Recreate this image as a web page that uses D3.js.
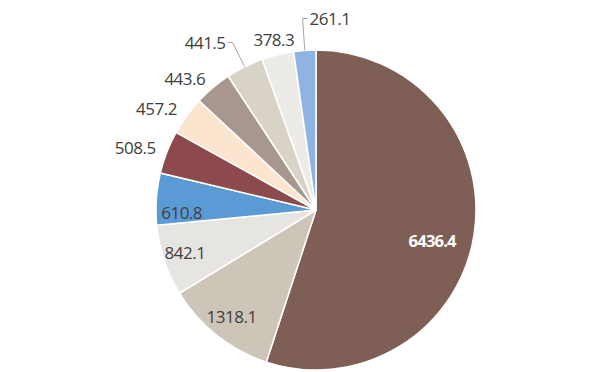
<!DOCTYPE html>
<html><head><meta charset="utf-8">
<script src="https://cdn.jsdelivr.net/npm/d3@7"></script>
<style>html,body{margin:0;padding:0;background:#fff;}svg{display:block;}</style>
</head><body>
<svg id="c" width="595" height="372"></svg>
<script>
const values = [6436.4, 1318.1, 842.1, 610.8, 508.5, 457.2, 443.6, 441.5, 378.3, 261.1];
const labels = ["6436.4", "1318.1", "842.1", "610.8", "508.5", "457.2", "443.6", "441.5", "378.3", "261.1"];
const colors = ["#7f5f55", "#cdc5b7", "#e7e5e1", "#5b9bd5", "#8c4a4f", "#fbe5cf", "#a7978f", "#d9d2c6", "#ecebe8", "#8fb3e2"];

const W = 595, H = 372, cx = 316, cy = 210, R = 160;
const svg = d3.select("#c");
const g = svg.append("g").attr("transform", `translate(${cx},${cy})`);

const pie = d3.pie().sort(null).value(d => d)(values);
const arc = d3.arc().innerRadius(0).outerRadius(R);

g.selectAll("path.slice").data(pie).enter().append("path")
  .attr("class", "slice")
  .attr("d", arc)
  .attr("fill", (d, i) => colors[i])
  .attr("stroke", "#fff").attr("stroke-width", 1.5).attr("stroke-linejoin", "round");

// label placement modes: inside / outside / leader
const mode = ["in", "in", "in", "in", "out", "out", "out", "leaderL", "outC", "leaderR"];
const inR = [0.75, 0.85, 0.86, 0.84];
const inShift = [0.096, 0, 0.01, -0.09];
const font = "'Open Sans', 'Noto Sans', sans-serif";

function pt(a, r) { return [r * Math.sin(a), -r * Math.cos(a)]; }

pie.forEach((d, i) => {
  const mid = (d.startAngle + d.endAngle) / 2;
  const m = mode[i];
  const t = g.append("text").text(labels[i])
    .attr("font-family", font).attr("font-size", 17)
    .attr("letter-spacing", -0.5)
    .attr("dominant-baseline", "central")
    .attr("fill", "#404040");
  if (m === "in") {
    const p = pt(mid + inShift[i], R * inR[i]);
    t.attr("x", p[0]).attr("y", p[1]).attr("text-anchor", "middle");
    if (i === 0) t.attr("fill", "#fff").attr("font-weight", "bold").attr("font-size", 16.5).attr("letter-spacing", -0.8);
  } else if (m === "out") {
    const p = pt(mid, R * 1.075);
    t.attr("x", p[0]).attr("y", p[1]).attr("text-anchor", "end");
  } else if (m === "outC") {
    const p = pt(mid, R * 1.1);
    t.attr("x", p[0]).attr("y", p[1]).attr("text-anchor", "middle");
  } else {
    const e = pt(mid, R);
    const k = pt(mid, R * (m === "leaderL" ? 1.17 : 1.2));
    const dir = m === "leaderL" ? -1 : 1;
    const h = [k[0] + dir * 5, k[1]];
    g.append("polyline")
      .attr("points", [e, k, h].map(p => p.join(",")).join(" "))
      .attr("fill", "none").attr("stroke", "#a6a6a6").attr("stroke-width", 1);
    t.attr("x", h[0] + dir * 2).attr("y", h[1]).attr("text-anchor", dir < 0 ? "end" : "start");
  }
});
</script>
</body></html>
